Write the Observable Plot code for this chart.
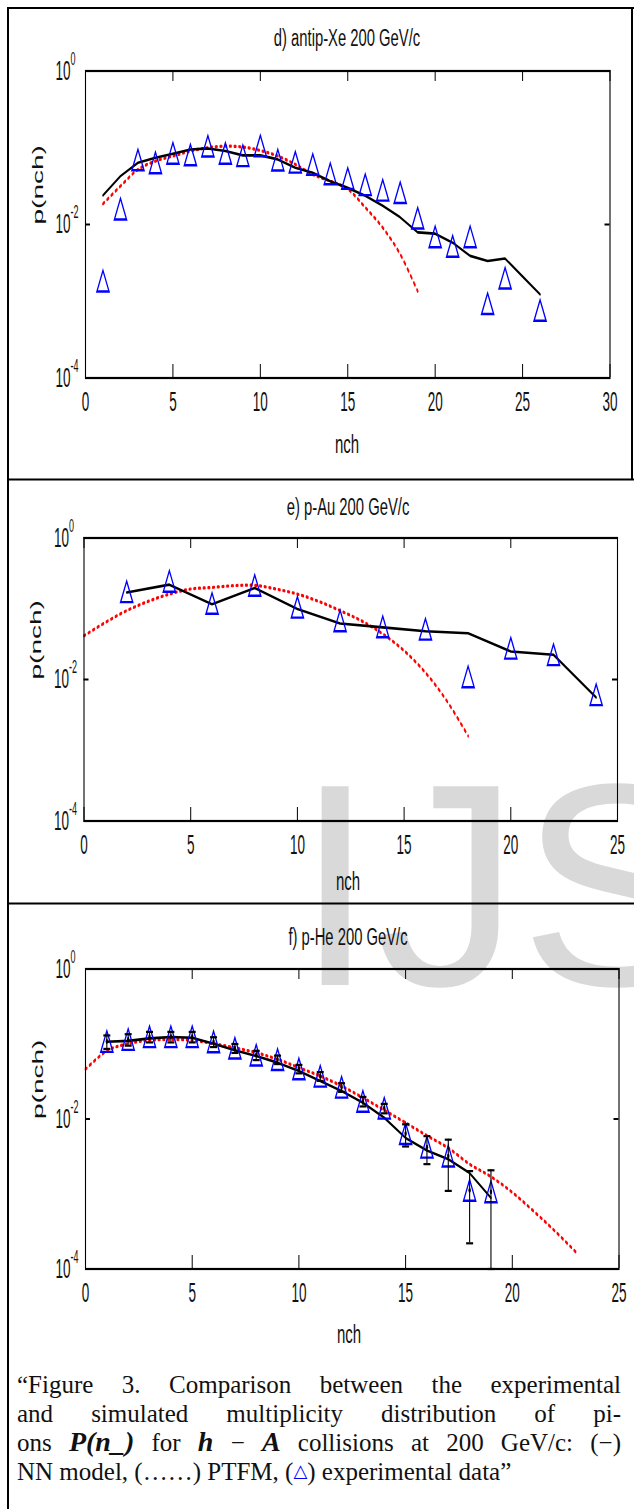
<!DOCTYPE html>
<html><head><meta charset="utf-8">
<script src="https://cdn.jsdelivr.net/npm/d3@7"></script>
<script src="https://cdn.jsdelivr.net/npm/@observablehq/plot@0.6"></script>
<style>
html,body{margin:0;padding:0;background:#fff;}
#page{position:relative;width:634px;height:1509px;overflow:hidden;background:#fff;}
.layer{position:absolute;left:0;top:0;pointer-events:none;}
.panel{position:absolute;left:0;transform-origin:0 0;transform:scaleY(2);}
.panel svg{display:block;overflow:visible;}
#caption{position:absolute;left:17px;width:604px;top:1371px;font-family:"Liberation Serif","Times New Roman",serif;font-size:25px;line-height:28.5px;color:#111;}
#caption .ln{text-align:justify;text-align-last:justify;}
#caption .m{font-weight:bold;font-style:italic;font-size:28px;}
#caption .tri{color:#0000ff;font-family:"DejaVu Sans",sans-serif;font-size:18px;position:relative;top:-3px;}
</style>
</head><body>
<div id="page">
  <div id="caption">
    <div class="ln">“Figure 3. Comparison between the experimental</div>
    <div class="ln">and simulated multiplicity distribution of pi-</div>
    <div class="ln">ons <span class="m">P(n_)</span> for <span class="m">h</span> − <span class="m">A</span> collisions at 200 GeV/c: (−)</div>
    <div>NN model, (……) PTFM, (<span class="tri">△</span>) experimental data”</div>
  </div>
</div>
<script>
// ---------- data ----------
// Panel d) antip-Xe 200 GeV/c
const xExpD = [1,2,3,4,5,6,7,8,9,10,11,12,13,14,15,16,17,18,19,20,21,22,23,24,26];
const expD  = [0.00183,0.0159,0.0695,0.0637,0.0847,0.0807,0.105,0.0844,0.0787,0.1057,0.069,0.0647,0.0607,0.0458,0.0398,0.033,0.028,0.026,0.0121,0.0069,0.0052,0.0069,0.00093,0.0020,0.00076];
const xNND  = [1,2,3,4,5,6,7,8,9,10,11,12,13,14,15,16,17,18,19,20,21,22,23,24,25,26];
const nnD   = [0.024,0.0427,0.0637,0.074,0.0835,0.095,0.098,0.0905,0.0795,0.0795,0.0705,0.0548,0.0472,0.0367,0.030,0.0237,0.0175,0.0124,0.0079,0.0076,0.0058,0.0039,0.00335,0.0036,0.0021,0.00123];
const xPTD  = [1,2,3,4,5,6,7,8,9,10,11,12,13,14,15,16,17,18,19];
const ptD   = [0.0186,0.0316,0.052,0.067,0.078,0.0905,0.1,0.105,0.102,0.092,0.078,0.0607,0.0449,0.0367,0.029,0.0167,0.0091,0.0041,0.00135];
// Panel e) p-Au 200 GeV/c
const xExpE = [2,4,6,8,10,12,14,16,18,20,22,24];
const expE  = [0.174,0.244,0.119,0.214,0.105,0.0676,0.0556,0.0514,0.0109,0.0277,0.0224,0.0061];
const xNNE  = [2,4,6,8,10,12,14,16,18,20,22,24];
const nnE   = [0.170,0.219,0.116,0.196,0.099,0.062,0.0545,0.048,0.045,0.0249,0.0224,0.00556];
const xPTE  = [0,1,2,3,4,5,6,7,8,9,10,11,12,13,14,15,16,17,18];
const ptE   = [0.0415,0.064,0.094,0.127,0.161,0.19,0.20,0.212,0.214,0.19,0.161,0.127,0.094,0.0676,0.044,0.0255,0.0125,0.005,0.00159];
// Panel f) p-He 200 GeV/c
const xExpF = [1,2,3,4,5,6,7,8,9,10,11,12,13,14,15,16,17,18,19];
const expF  = [0.108,0.115,0.125,0.125,0.125,0.107,0.088,0.071,0.062,0.0466,0.0372,0.0265,0.0172,0.0139,0.0064,0.0042,0.0032,0.00112,0.00107];
const errF  = [0.022,0.02,0.02,0.02,0.02,0.016,0.012,0.01,0.008,0.006,0.005,0.0035,0.0025,0.002,0.0021,0.0017,0.0021,0.0009,0.001];
const xNNF  = [1,2,3,4,5,6,7,8,9,10,11,12,13,14,15,16,17,18,19];
const nnF   = [0.107,0.11,0.119,0.124,0.121,0.101,0.0824,0.069,0.0564,0.0437,0.0321,0.0236,0.0165,0.0104,0.0056,0.0038,0.0029,0.0019,0.00089];
const xPTF  = [0,1,2,3,4,5,6,7,8,9,10,11,12,13,14,15,16,17,18,19,20,21,22,23];
const ptF   = [0.046,0.081,0.101,0.112,0.115,0.112,0.101,0.089,0.0766,0.0625,0.0483,0.0374,0.0275,0.0192,0.0131,0.0089,0.0060,0.0041,0.0025,0.0017,0.00105,0.00059,0.00032,0.000166];
// ticks and labels
const xTicks30 = [0,5,10,15,20,25,30];
const xTicks25 = [0,5,10,15,20,25];
const yTicks = [1e-4,1e-2,1];
const yTickExp = ["-4","-2","0"];
const titles = ["d) antip-Xe 200 GeV/c","e) p-Au 200 GeV/c","f) p-He 200 GeV/c"];
const xLabel = "nch";
const yLabel = "p(nch)";

// ---------- drawing ----------
const S = 2; // vertical stretch of the original bitmap figure
const FONT = '"Liberation Sans", Arial, Helvetica, sans-serif';
const page = document.getElementById("page");

// watermark underlay
const under = d3.select(page).insert("svg", ":first-child").attr("class","layer")
  .attr("width",634).attr("height",1509);
under.append("text").attr("x",295).attr("y",985).attr("font-family",FONT)
  .attr("font-size",289).attr("fill","#d9d9d9").text("IJS");

const pts = (xs, ys) => xs.map((x,i) => ({x, y: ys[i]}));
const capSymbol = {draw(ctx){ ctx.moveTo(-3.5,0); ctx.lineTo(3.5,0); }};

function makePanel(cfg){
  const fh = (cfg.B - cfg.T)/S, fw = cfg.R - cfg.L;
  const hU = (cfg.B - cfg.T + 40 + 46)/S;
  const svg = Plot.plot({
    width: 634, height: hU,
    marginLeft: cfg.L, marginRight: 634 - cfg.R, marginTop: 40/S, marginBottom: 46/S,
    x: {domain: [0, cfg.xmax], axis: null},
    y: {type: "log", domain: [1e-4, 1], axis: null},
    style: {fontFamily: FONT, fontSize: "13px", background: "transparent", color: "#000", overflow: "visible"},
    marks: [
      Plot.ruleX(cfg.xTicks, {x: d => d, insetTop: fh - 6.5, stroke: "#000", strokeWidth: 1}),
      Plot.ruleX(cfg.xTicks, {x: d => d, insetBottom: fh - 5.5, stroke: "#000", strokeWidth: 1}),
      Plot.ruleY(yTicks, {y: d => d, insetRight: fw - 5, stroke: "#000", strokeWidth: 1}),
      Plot.ruleY(yTicks, {y: d => d, insetLeft: fw - 5, stroke: "#000", strokeWidth: 1}),
      Plot.line(cfg.pt, {x: "x", y: "y", stroke: "#ff0000", strokeWidth: 1.6, strokeDasharray: "1.5,3.2", curve: "catmull-rom"}),
      Plot.line(cfg.nn, {x: "x", y: "y", stroke: "#000", strokeWidth: 1.3}),
      Plot.dot(cfg.exp, {x: "x", y: "y", symbol: "triangle", r: 4.5, dy: 1.7, stroke: "#0000ff", strokeWidth: 1.2, fill: "none"}),
      ...(cfg.extra || []),
      Plot.frame({stroke: "#000", strokeWidth: 1.1}),
      Plot.text(cfg.xTicks, {x: d => d, frameAnchor: "bottom", dy: 7, lineAnchor: "top", text: d => String(d), fontSize: 13.5, fill: "#111"}),
      Plot.text(yTicks, {y: d => d, frameAnchor: "left", dx: -15, textAnchor: "end", text: () => "10", fontSize: 13.5, fill: "#111"}),
      Plot.text(yTicks, {y: d => d, frameAnchor: "left", dx: -15, dy: -6, textAnchor: "start", text: (d,i) => yTickExp[i], fontSize: 9, fill: "#111"}),
      Plot.text([yLabel], {frameAnchor: "left", dx: -47, rotate: -90, text: d => d, fontSize: 14, fill: "#111"})
    ]
  });
  const div = document.createElement("div");
  div.className = "panel";
  div.style.top = (cfg.T - 40) + "px";
  div.appendChild(svg);
  page.insertBefore(div, document.getElementById("caption"));
}

makePanel({L: 85, R: 609.5, T: 70, B: 377, xmax: 30, xTicks: xTicks30,
  exp: pts(xExpD, expD), nn: pts(xNND, nnD), pt: pts(xPTD, ptD)});
makePanel({L: 83.5, R: 617, T: 537, B: 820, xmax: 25, xTicks: xTicks25,
  exp: pts(xExpE, expE), nn: pts(xNNE, nnE), pt: pts(xPTE, ptE)});
const errRows = xExpF.map((x,i) => ({x, y: expF[i], lo: Math.max(expF[i]-errF[i], 1e-4), hi: expF[i]+errF[i]}));
makePanel({L: 85, R: 618.5, T: 968, B: 1268, xmax: 25, xTicks: xTicks25,
  exp: pts(xExpF, expF), nn: pts(xNNF, nnF), pt: pts(xPTF, ptF),
  extra: [
    Plot.ruleX(errRows, {x: "x", y1: "lo", y2: "hi", stroke: "#000", strokeWidth: 1.1}),
    Plot.dot(errRows, {x: "x", y: "hi", symbol: capSymbol, stroke: "#000", strokeWidth: 1.1}),
    Plot.dot(errRows, {x: "x", y: "lo", symbol: capSymbol, stroke: "#000", strokeWidth: 1.1}),
    Plot.dot(errRows, {x: "x", y: "y", r: 1.2, fill: "#000"})
  ]});

// overlay: borders, titles, axis titles
const ov = d3.select(page).insert("svg", "#caption").attr("class","layer")
  .attr("width",634).attr("height",1509);
const bl = [[8,7,8,1509],[7,8,634,8],[7,479.5,634,479.5],[7,903.5,634,903.5],[632,8,632,479.5]];
ov.selectAll("line").data(bl).join("line")
  .attr("x1",d=>d[0]).attr("y1",d=>d[1]).attr("x2",d=>d[2]).attr("y2",d=>d[3])
  .attr("stroke","#000").attr("stroke-width",2);
function label(txt, x, y, fs, k){
  ov.append("text").attr("transform",`translate(${x},${y}) scale(1,${k})`)
    .attr("text-anchor","middle").attr("font-family",FONT).attr("font-size",fs)
    .attr("fill","#111").text(txt);
}
label(titles[0], 347, 45.5, 14.8, 1.65);
label(titles[1], 348, 515, 14.8, 1.65);
label(titles[2], 348, 945, 14.8, 1.65);
label(xLabel, 347, 453, 15, 1.7);
label(xLabel, 348, 890, 15, 1.7);
label(xLabel, 349, 1343, 15, 1.7);
</script>
</body></html>
